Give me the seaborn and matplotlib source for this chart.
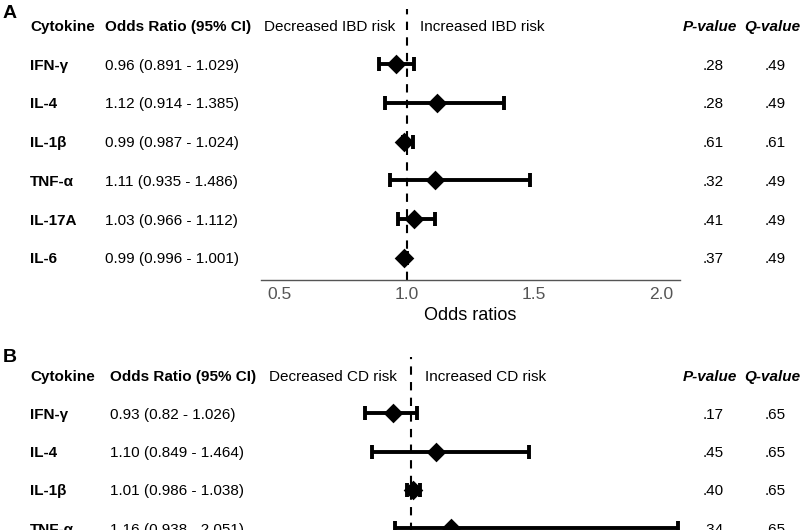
import matplotlib
matplotlib.use("Agg")
import matplotlib.pyplot as plt
import matplotlib.transforms as mtransforms
import seaborn as sns

# panel A: IBD
cytokines_a = ["IFN-γ", "IL-4", "IL-1β", "TNF-α", "IL-17A", "IL-6"]
or_a = [0.96, 1.12, 0.99, 1.11, 1.03, 0.99]
lo_a = [0.891, 0.914, 0.987, 0.935, 0.966, 0.996]
hi_a = [1.029, 1.385, 1.024, 1.486, 1.112, 1.001]
p_a = [0.28, 0.28, 0.61, 0.32, 0.41, 0.37]
q_a = [0.49, 0.49, 0.61, 0.49, 0.49, 0.49]

# panel B: CD (the picture is cut after TNF-α)
cytokines_b = ["IFN-γ", "IL-4", "IL-1β", "TNF-α"]
or_b = [0.93, 1.10, 1.01, 1.16]
lo_b = [0.82, 0.849, 0.986, 0.938]
hi_b = [1.026, 1.464, 1.038, 2.051]
p_b = [0.17, 0.45, 0.40, 0.34]
q_b = [0.65, 0.65, 0.65, 0.65]

x_ticks = [0.5, 1.0, 1.5, 2.0]

W, H = 800, 530

sns.set_theme(style="white")
plt.rcParams["font.family"] = ["Liberation Sans", "DejaVu Sans"]
plt.rcParams["text.color"] = "black"

fig = plt.figure(figsize=(W / 100, H / 100), dpi=100)


def px_rect(left, top, right, bottom):
    return [left / W, 1 - bottom / H, (right - left) / W, (bottom - top) / H]


def fmt_p(v):
    return f"{v:.2f}".lstrip("0")


def draw_panel(rect, ylim, letter, letter_y, disease, names, ors, los, his, ps, qs,
               shift, show_axis):
    ax = fig.add_axes(rect)
    rows = list(range(1, len(names) + 1))

    ax.axvline(1.0, color="black", lw=1.5, ls=(0, (4, 3.5)), zorder=1)
    # CI whiskers + caps
    ax.hlines(rows, los, his, color="black", lw=2.8, zorder=2)
    ax.plot(los, rows, ls="none", marker="|", ms=10.5, mew=2.8, color="black", zorder=2)
    ax.plot(his, rows, ls="none", marker="|", ms=10.5, mew=2.8, color="black", zorder=2)
    sns.scatterplot(x=ors, y=rows, marker="D", s=100, color="black",
                    edgecolor="black", linewidth=0, ax=ax, zorder=3, legend=False)

    ax.set_xlim(0.428, 2.075)
    ax.set_ylim(*ylim)
    ax.set_yticks([])
    ax.set_ylabel("")
    ax.set_xticks(x_ticks)
    ax.set_xticklabels([f"{t:.1f}" for t in x_ticks])
    ax.tick_params(axis="x", length=0, pad=5, labelsize=12.5, labelcolor="#555555")
    sns.despine(ax=ax, left=True, top=True, right=True)
    ax.spines["bottom"].set_color("#555555")
    ax.spines["bottom"].set_linewidth(1.0)
    ax.set_xlabel("Odds ratios", fontsize=13, color="black", labelpad=4)
    if not show_axis:
        ax.spines["bottom"].set_visible(False)

    tr = mtransforms.blended_transform_factory(fig.transFigure, ax.transData)
    fs = 11

    def t(xpx, y, s, **kw):
        ax.text(xpx / W, y, s, transform=tr, fontsize=fs, va="center_baseline",
                clip_on=False, **kw)

    # header row
    t(30, 0, "Cytokine", weight="bold")
    t(105 + shift, 0, "Odds Ratio (95% CI)", weight="bold")
    t(264 + shift, 0, f"Decreased {disease} risk")
    t(420 + shift, 0, f"Increased {disease} risk")
    t(683, 0, "P-value", weight="bold", style="italic")
    t(744, 0, "Q-value", weight="bold", style="italic")

    for r, n, o, l, h, p, q in zip(rows, names, ors, los, his, ps, qs):
        t(30, r, n, weight="bold")
        t(105 + shift, r, f"{o:.2f} ({l:g} - {h:g})")
        t(713, r, fmt_p(p), ha="center")
        t(775, r, fmt_p(q), ha="center")

    fig.text(3 / W, 1 - letter_y / H, letter, fontsize=14, weight="bold",
             va="center", ha="left")
    return ax


ax_a = draw_panel(px_rect(261, 9, 680, 280), (6.57, -0.42), "A", 14, "IBD",
                  cytokines_a, or_a, lo_a, hi_a, p_a, q_a, 0, True)
ax_b = draw_panel(px_rect(265, 357, 684, 626), (6.55, -0.47), "B", 358, "CD",
                  cytokines_b, or_b, lo_b, hi_b, p_b, q_b, 5, False)

fig.savefig("out.png", dpi=100)
